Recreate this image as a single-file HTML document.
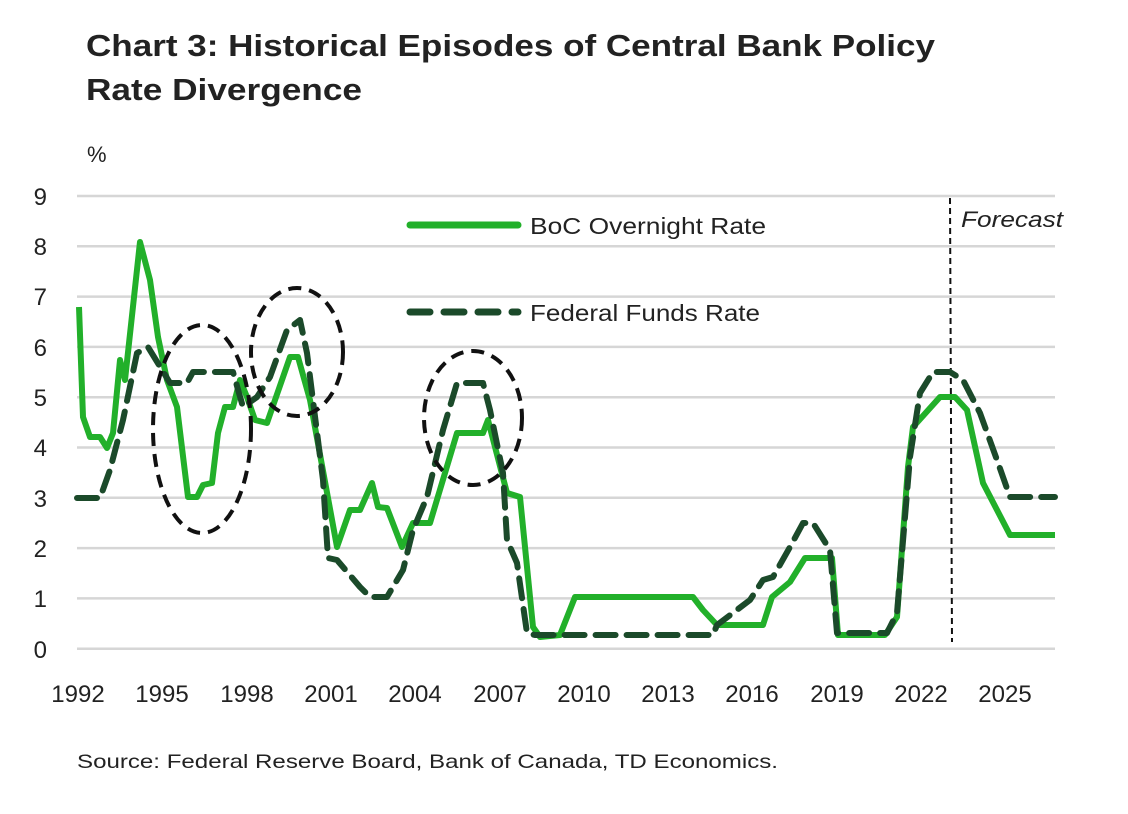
<!DOCTYPE html>
<html><head><meta charset="utf-8"><style>
body{margin:0;background:#fff;width:1128px;height:814px;overflow:hidden}
svg{display:block}
text{font-family:"Liberation Sans",sans-serif;fill:#222}
</style></head><body>
<svg width="1128" height="814" viewBox="0 0 1128 814">
<text x="86" y="56" font-size="31" font-weight="bold" fill="#1a1a1a" textLength="849" lengthAdjust="spacingAndGlyphs">Chart 3: Historical Episodes of Central Bank Policy</text>
<text x="86" y="100" font-size="31" font-weight="bold" fill="#1a1a1a" textLength="276" lengthAdjust="spacingAndGlyphs">Rate Divergence</text>
<text x="87" y="162" font-size="22">%</text>
<g stroke="#d6d6d6" stroke-width="2.5">
<line x1="77" x2="1055" y1="196" y2="196"/><line x1="77" x2="1055" y1="246.3" y2="246.3"/><line x1="77" x2="1055" y1="296.6" y2="296.6"/><line x1="77" x2="1055" y1="346.9" y2="346.9"/><line x1="77" x2="1055" y1="397.2" y2="397.2"/><line x1="77" x2="1055" y1="447.5" y2="447.5"/><line x1="77" x2="1055" y1="497.8" y2="497.8"/><line x1="77" x2="1055" y1="548.1" y2="548.1"/><line x1="77" x2="1055" y1="598.4" y2="598.4"/><line x1="77" x2="1055" y1="648.7" y2="648.7"/>
</g>
<g font-size="24" text-anchor="end">
<text x="47" y="205">9</text><text x="47" y="255">8</text><text x="47" y="305">7</text><text x="47" y="356">6</text><text x="47" y="406">5</text><text x="47" y="456">4</text><text x="47" y="507">3</text><text x="47" y="557">2</text><text x="47" y="607">1</text><text x="47" y="658">0</text>
</g>
<g font-size="24" text-anchor="middle">
<text x="78" y="702">1992</text><text x="162" y="702">1995</text><text x="247" y="702">1998</text><text x="331" y="702">2001</text><text x="415" y="702">2004</text><text x="500" y="702">2007</text><text x="584" y="702">2010</text><text x="668" y="702">2013</text><text x="752" y="702">2016</text><text x="837" y="702">2019</text><text x="921" y="702">2022</text><text x="1005" y="702">2025</text>
</g>
<line x1="950" y1="198" x2="952" y2="642" stroke="#111" stroke-width="2" stroke-dasharray="6,4"/>
<text x="961" y="227" font-size="22" font-style="italic" textLength="102" lengthAdjust="spacingAndGlyphs">Forecast</text>
<polyline fill="none" stroke="#22b02a" stroke-width="6" stroke-linejoin="round" points="79,307 83,417 90,437 100,437 107,448 113,433 120,360 125,380 140,242 150,280 158,337 167,380 177,407 188,497 197,497 203,485 212,483 218,433 225,407 233,407 240,380 247,397 255,420 267,423 290,357 298,357 310,400 337,547 350,510 360,510 372,483 378,507 387,508 402,547 413,523 430,523 445,473 457,433 483,433 488,420 507,493 520,497 533,627 540,637 560,635 575,597 693,597 703,610 717,625 763,625 772,597 790,582 805,558 832,558 838,635 885,635 897,617 908,467 913,427 940,397 955,397 967,410 983,483 1010,535 1055,535"/>
<polyline fill="none" stroke="#1b4a2a" stroke-width="6" stroke-linecap="round" stroke-linejoin="round" stroke-dasharray="20,11" points="77,498 100,498 110,470 123,420 137,353 148,347 170,383 187,383 193,372 233,372 243,407 257,397 270,377 287,330 300,320 307,353 323,480 328,558 337,560 360,587 370,597 387,597 403,570 413,530 427,497 443,430 457,383 483,383 490,410 503,473 507,540 517,563 527,633 535,635 713,635 717,625 750,600 763,580 773,577 790,547 803,523 813,523 830,550 837,633 887,633 897,613 910,457 920,393 933,372 950,372 963,380 980,413 997,460 1010,497 1055,497"/>
<g fill="none" stroke="#111" stroke-width="4" stroke-dasharray="13,8">
<ellipse cx="202" cy="429" rx="49" ry="104"/>
<ellipse cx="297" cy="352" rx="46" ry="64"/>
<ellipse cx="473" cy="418" rx="49" ry="67"/>
</g>
<line x1="410" y1="225" x2="518" y2="225" stroke="#22b02a" stroke-width="7" stroke-linecap="round"/>
<text x="530" y="234" font-size="23" textLength="236" lengthAdjust="spacingAndGlyphs">BoC Overnight Rate</text>
<line x1="410" y1="312" x2="518" y2="312" stroke="#1b4a2a" stroke-width="7" stroke-linecap="round" stroke-dasharray="20,14"/>
<text x="530" y="321" font-size="23" textLength="230" lengthAdjust="spacingAndGlyphs">Federal Funds Rate</text>
<text x="77" y="768" font-size="19.5" fill="#333" textLength="701" lengthAdjust="spacingAndGlyphs">Source: Federal Reserve Board, Bank of Canada, TD Economics.</text>
</svg>
</body></html>
